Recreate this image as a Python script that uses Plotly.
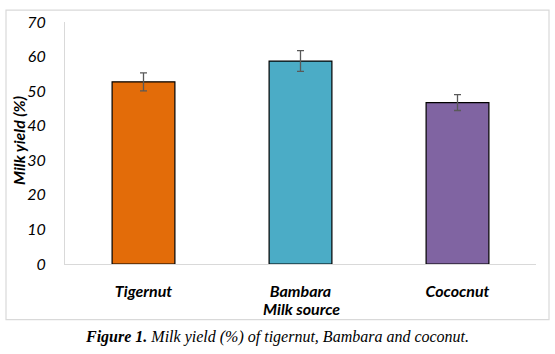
import plotly.graph_objects as go

categories = ["Tigernut", "Bambara", "Cococnut"]
yield_pct = [52.7, 58.7, 46.7]
err = [2.6, 3.0, 2.3]
colors = ["#E36C09", "#4BACC6", "#8064A2"]
y_ticks = [0, 10, 20, 30, 40, 50, 60, 70]

L, R, T, B = 65, 536, 20, 264
W, H = R - L, B - T

def px(x):
    return (x - L) / W

def py(y):
    return (B - y) / H

SANS = "Lato, Noto Sans, sans-serif"

fig = go.Figure(go.Bar(
    x=categories, y=yield_pct, width=0.4,
    marker=dict(color=colors, line=dict(color="black", width=1.2)),
    error_y=dict(type="data", array=err, color="#595959", thickness=1.3, width=3.5),
))

fig.update_layout(
    width=555, height=354,
    margin=dict(l=L, r=555 - R, t=T, b=354 - B),
    paper_bgcolor="white", plot_bgcolor="white",
    showlegend=False,
    font=dict(family=SANS, color="black"),
    xaxis=dict(
        showline=True, linecolor="#d9d9d9", linewidth=1.2,
        ticks="", showgrid=False,
        tickfont=dict(size=16, family=SANS, weight="bold", style="italic"),
        ticklabelstandoff=13,
    ),
    yaxis=dict(
        range=[0, 70], tickvals=y_ticks,
        showline=True, linecolor="#d9d9d9", linewidth=1.2,
        ticks="", showgrid=False, zeroline=False,
        tickfont=dict(size=16, family=SANS, style="italic"),
        ticklabelstandoff=15,
    ),
    shapes=[dict(type="rect", xref="paper", yref="paper",
                 x0=px(6), x1=px(549), y0=py(320), y1=py(8),
                 line=dict(color="#d9d9d9", width=1.2), layer="below")],
    annotations=[
        dict(text="Milk yield (%)", textangle=-90, xref="paper", yref="paper",
             x=px(18), y=py(140), xanchor="center", yanchor="middle", showarrow=False,
             font=dict(size=16, family=SANS, weight="bold", style="italic")),
        dict(text="Milk source", xref="paper", yref="paper",
             x=px(301), y=py(309), xanchor="center", yanchor="middle", showarrow=False,
             font=dict(size=16, family=SANS, weight="bold", style="italic")),
        dict(text="<b>Figure 1.</b> Milk yield (%) of tigernut, Bambara and coconut.",
             xref="paper", yref="paper", x=px(277), y=py(338),
             xanchor="center", yanchor="middle", showarrow=False,
             font=dict(size=16, family="Liberation Serif, DejaVu Serif, serif", style="italic")),
    ],
)

fig.write_html("out.html")
